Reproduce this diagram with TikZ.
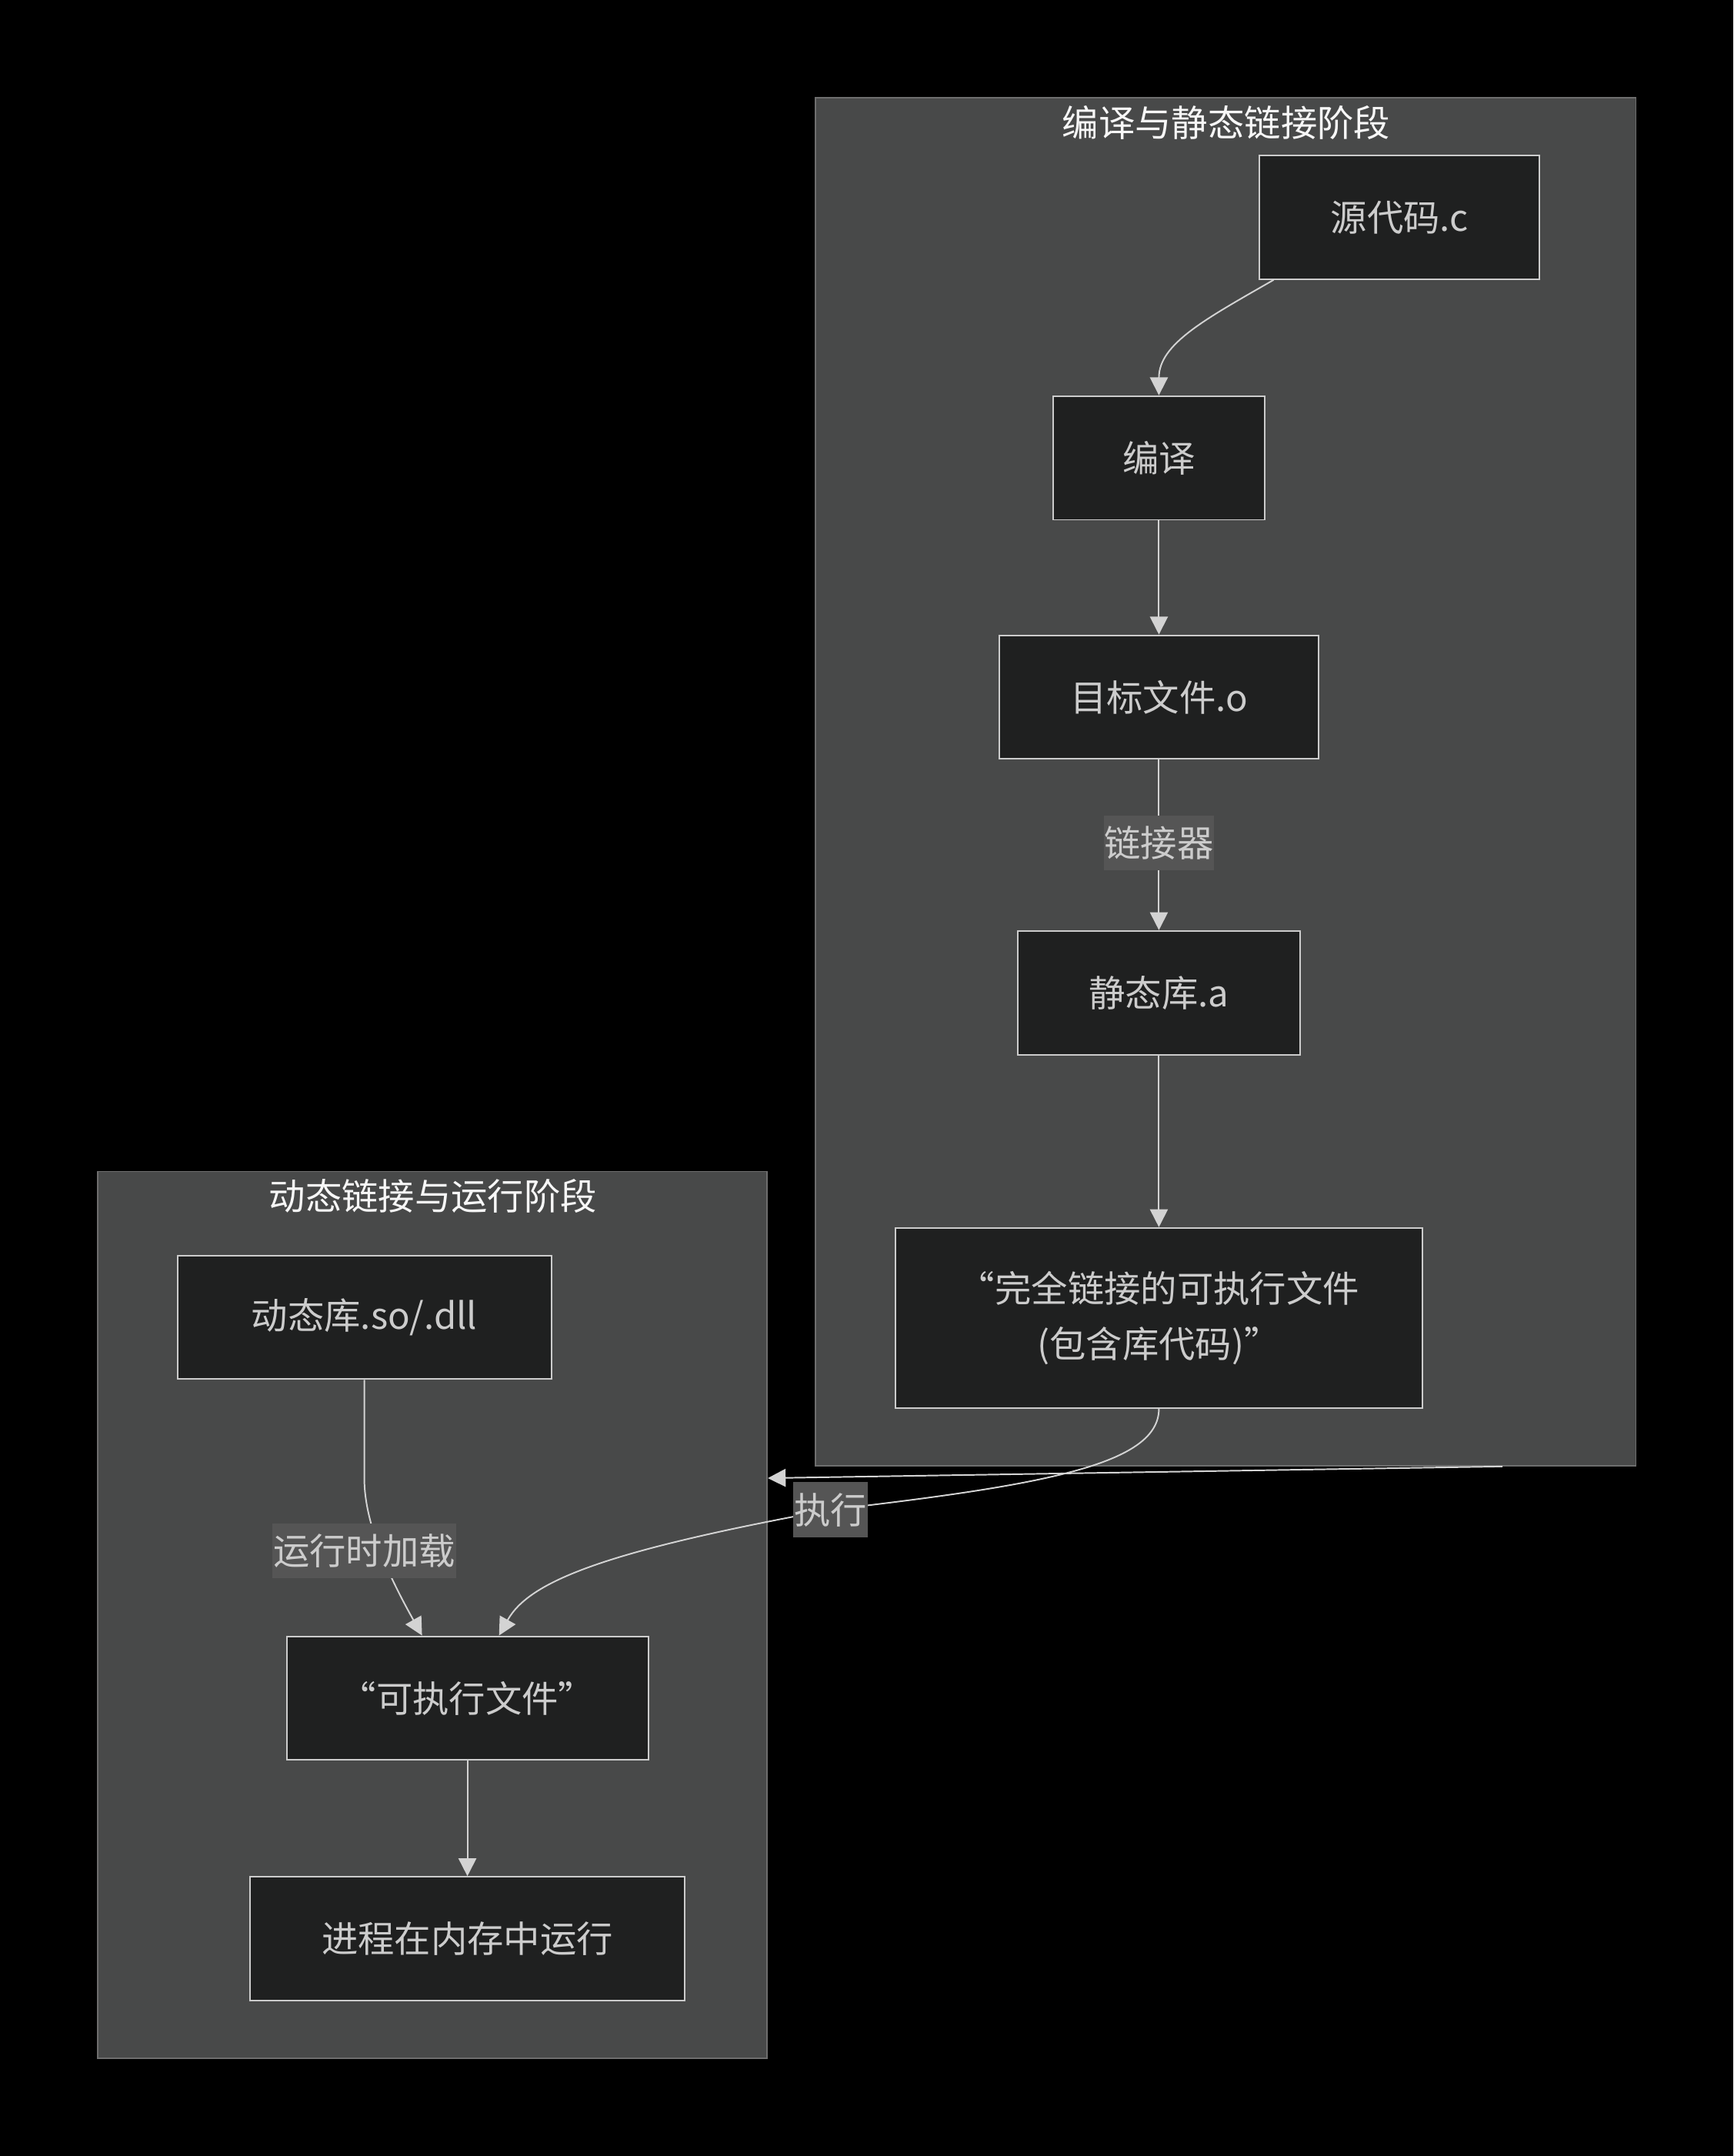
\documentclass[tikz,border=0pt]{standalone}
\usepackage{fontspec}
\setmainfont{Noto Sans CJK SC}
\usetikzlibrary{arrows.meta,positioning}
\definecolor{canvasbg}{HTML}{000000}
\definecolor{clusterbg}{HTML}{484949}
\definecolor{clusterline}{HTML}{6E6E6E}
\definecolor{boxbg}{HTML}{1F2020}
\definecolor{boxline}{HTML}{CCCCCC}
\definecolor{boxtext}{HTML}{CCCCCC}
\definecolor{titletext}{HTML}{F7F7F7}
\definecolor{labelbg}{HTML}{555555}
\definecolor{edgeline}{HTML}{D3D3D3}

\begin{document}
\begin{tikzpicture}[x=1pt, y=-1pt, font=\fontsize{26.5}{40}\selectfont,
  cluster/.style={draw=clusterline, fill=clusterbg, line width=1pt, inner sep=0pt},
  box/.style={draw=boxline, fill=boxbg, text=boxtext, line width=1.1pt,
    minimum height=90pt, inner sep=0pt, align=center},
  title/.style={text=titletext, inner sep=0pt},
  lbl/.style={fill=labelbg, text=boxtext, inner xsep=0.5pt, inner ysep=0pt, minimum height=40pt},
  edge/.style={draw=edgeline, line width=1.1pt, -{Triangle[length=13pt,width=13pt]}}]
  % fond noir, aux proportions de l'original
  \fill[canvasbg] (0,0) rectangle (1261,1568);
  \useasboundingbox (0,0) rectangle (1261,1568);

  % les deux sous-graphes
  \node[cluster, minimum width=597pt, minimum height=995pt] (clA) at (891.5,568.5) {};
  \node[title] (clAtitle) at (892,89) {编译与静态链接阶段};
  \node[cluster, minimum width=487pt, minimum height=645pt] (clB) at (314.5,1174.5) {};
  \node[title] (clBtitle) at (315,870) {动态链接与运行阶段};

  % etapes de la compilation
  \node[box, minimum width=204pt] (src) at (1018,158) {源代码.c};
  \node[box, minimum width=154pt] (compile) at (843,333) {编译};
  \node[box, minimum width=232pt] (obj) at (843,507) {目标文件.o};
  \node[box, minimum width=205pt] (static) at (843,722) {静态库.a};
  \node[box, minimum width=383pt, minimum height=131pt] (full) at (843,958.5)
    {“完全链接的可执行文件\\(包含库代码)”};

  % etapes du chargement dynamique
  \node[box, minimum width=272pt] (dyn) at (265,958) {动态库.so/.dll};
  \node[box, minimum width=263pt] (exec) at (340,1235) {“可执行文件”};
  \node[box, minimum width=316pt] (proc) at (340,1410) {进程在内存中运行};

  \coordinate (clink) at (843,613);
  \coordinate (cexec) at (604,1098);
  \coordinate (cload) at (265,1128);

  \draw[edge] ([xshift=11pt]src.south west) .. controls (877,232) and (843,250) .. (compile.north);
  \draw[edge] (compile) -- (obj);
  \draw[edge] (obj) -- (static);
  \draw[edge] (static) -- (full);
  \draw[edge] (full.south) .. controls (843,1065) and (760,1080) .. (cexec)
    .. controls (440,1128) and (385,1150) .. ([xshift=23pt]exec.north);
  \draw[edge] (dyn.south) -- (265,1075) .. controls (265,1110) and (285,1150)
    .. ([xshift=-33pt]exec.north);
  \draw[edge] (exec) -- (proc);
  \draw[edge] ([xshift=201.5pt]clA.south) -- ([yshift=99.5pt]clB.east);

  % etiquettes posees sur les fleches
  \node[lbl] (lbllink) at (clink) {链接器};
  \node[lbl] (lblexec) at (cexec) {执行};
  \node[lbl] (lblload) at (cload) {运行时加载};
\end{tikzpicture}
\end{document}
